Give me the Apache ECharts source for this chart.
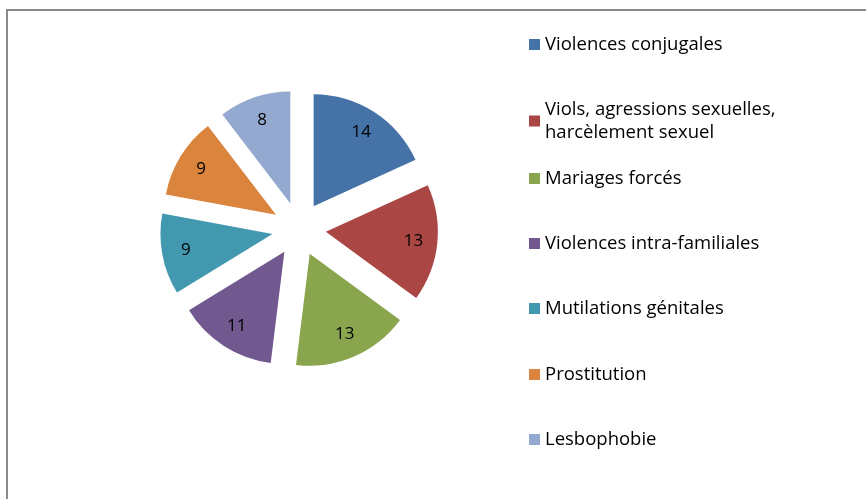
<!DOCTYPE html>
<html>
<head>
<meta charset="utf-8">
<script src="https://cdn.jsdelivr.net/npm/echarts@6/dist/echarts.min.js"></script>
<style>
  html, body { margin: 0; padding: 0; background: #fff; }
  #chart { width: 866px; height: 499px; }
</style>
</head>
<body>
<div id="chart"></div>
<script>
// categories and values
const categories = [
  "Violences conjugales",
  "Viols, agressions sexuelles,\nharcèlement sexuel",
  "Mariages forcés",
  "Violences intra-familiales",
  "Mutilations génitales",
  "Prostitution",
  "Lesbophobie"
];
const values = [14, 13, 13, 11, 9, 9, 8];
const colors = ["#4572a7", "#aa4643", "#89a54e", "#71588f", "#4198af", "#db843d", "#93a9cf"];

const legendTops = [28, 93, 162, 227, 292, 358, 423];
const font = "Open Sans";

const chart = echarts.init(document.getElementById("chart"));

const pieData = categories.map((c, i) => ({
  name: c, value: values[i], selected: true,
  itemStyle: { color: colors[i] }
}));

chart.setOption({
  animation: false,
  legend: categories.map((c, i) => ({
    data: [c],
    left: 524,
    top: legendTops[i],
    orient: "vertical",
    itemWidth: 11,
    itemHeight: 11,
    itemGap: 6,
    selectedMode: false,
    icon: "rect",
    textStyle: { fontFamily: font, fontSize: 18.5, color: "#000", lineHeight: 23 }
  })),
  graphic: [
    { type: "polyline", silent: true, shape: { points: [[7, 499], [7, 10], [866, 10]] },
      style: { stroke: "#8a8a8a", lineWidth: 2, fill: null } }
  ],
  series: [
    {
      type: "pie",
      center: [299, 229],
      radius: [0, 112],
      startAngle: 90,
      clockwise: true,
      selectedMode: "multiple",
      selectedOffset: 27,
      silent: true,
      label: { show: false },
      labelLine: { show: false },
      emphasis: { disabled: true },
      data: pieData
    },
    {
      // transparent ring carrying the value labels
      type: "pie",
      center: [299, 229],
      radius: [58, 112],
      startAngle: 90,
      clockwise: true,
      selectedMode: "multiple",
      selectedOffset: 27,
      silent: true,
      itemStyle: { color: "rgba(0,0,0,0)" },
      label: { show: true, position: "inside", formatter: "{c}", fontFamily: font, fontSize: 17, color: "#000" },
      labelLine: { show: false },
      emphasis: { disabled: true },
      data: categories.map((c, i) => ({ name: c, value: values[i], selected: true }))
    }
  ]
});
</script>
</body>
</html>
